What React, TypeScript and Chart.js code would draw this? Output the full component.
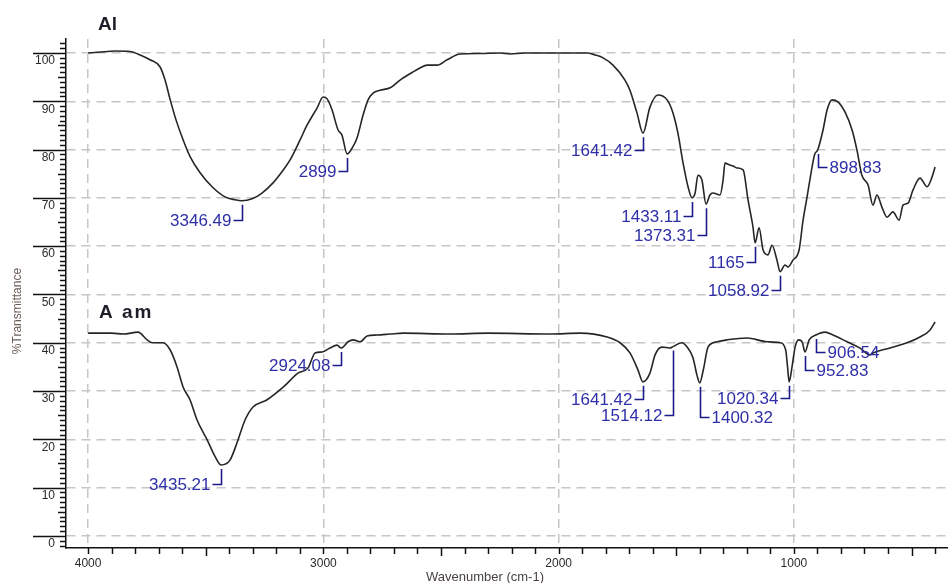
import React, { useEffect, useRef } from 'react';
import { Chart, registerables } from 'chart.js';

Chart.register(...registerables);

// Spectrum "Al": wavenumber (cm-1) and transmittance (%)
const alWavenumber = [
  4000, 3949, 3885, 3822, 3779, 3737, 3694, 3673, 3651, 3626,
  3596, 3566, 3524, 3473, 3418, 3375, 3346.49, 3303, 3261, 3214,
  3176, 3142, 3099, 3069, 3027, 3001, 2984, 2963, 2938, 2921,
  2899, 2878, 2857, 2831, 2810, 2789, 2759, 2716, 2674, 2632,
  2589, 2559, 2517, 2474, 2419, 2334, 2249, 2207, 2143, 2007,
  1879, 1845, 1811, 1769, 1718, 1697, 1667, 1641.42, 1612, 1578,
  1539, 1514, 1493, 1471, 1450, 1433.11, 1420, 1408, 1391, 1373.31,
  1357, 1344, 1314, 1301, 1293, 1272, 1259, 1242, 1216, 1195,
  1174, 1165, 1148, 1131, 1110, 1093, 1072, 1058.92, 1038, 1025,
  1004, 978, 961, 944, 927, 912, 898.83, 876, 859, 838,
  813, 783, 753, 732, 711, 685, 664, 647, 626, 604,
  579, 553, 536, 515, 494, 464, 434, 413, 400,
];
const alTransmittance = [
  100.0, 100.2, 100.4, 100.3, 99.6, 98.6, 97.1, 94.4, 90.3, 86.1,
  82.0, 78.5, 75.2, 72.3, 70.2, 69.6, 69.4, 69.8, 71.0, 73.1,
  75.4, 77.8, 82.0, 85.1, 88.6, 90.9, 90.5, 88.2, 84.1, 83.0,
  79.1, 80.3, 82.4, 87.2, 90.3, 91.7, 92.3, 92.8, 94.4, 95.7,
  96.9, 97.5, 97.5, 98.6, 99.8, 99.9, 100.0, 99.8, 100.0, 100.0,
  100.0, 99.6, 99.0, 97.5, 94.4, 92.3, 87.6, 83.4, 88.8, 91.3,
  90.3, 87.6, 83.4, 77.2, 72.3, 70.0, 71.0, 74.7, 73.7, 68.7,
  70.6, 71.0, 70.6, 73.7, 77.2, 76.8, 76.6, 76.2, 75.8, 69.6,
  64.0, 60.7, 63.8, 59.2, 58.2, 60.2, 57.1, 54.7, 56.1, 55.7,
  57.1, 59.2, 65.4, 70.2, 75.2, 79.0, 79.9, 84.1, 88.2, 90.3,
  89.9, 87.8, 84.1, 79.9, 74.7, 72.7, 68.5, 70.6, 68.1, 66.0,
  67.1, 65.4, 68.5, 68.9, 71.6, 74.1, 72.3, 74.3, 76.4,
];

// Spectrum "A am": wavenumber (cm-1) and transmittance (%)
const aamWavenumber = [
  4000, 3900, 3850, 3788, 3749, 3728, 3681, 3651, 3622, 3596,
  3567, 3537, 3494, 3460, 3435.21, 3397, 3367, 3333, 3299, 3239,
  3171, 3108, 3065, 3035, 3005, 2972, 2942, 2924.08, 2895, 2874,
  2844, 2814, 2772, 2717, 2661, 2462, 2300, 2037, 1909, 1794,
  1739, 1697, 1663, 1641.42, 1612, 1590, 1561, 1527, 1514.12, 1476,
  1454, 1429, 1412, 1400.32, 1385, 1365, 1327, 1284, 1199, 1114,
  1059, 1035, 1027, 1020.34, 1008, 995, 980, 965, 952.83, 935,
  906.54, 868, 834, 774, 719, 677, 664, 592, 519, 464,
  422, 400,
];
const aamTransmittance = [
  42.0, 42.0, 41.8, 42.2, 40.6, 40.0, 40.0, 38.5, 35.0, 30.8,
  28.2, 24.0, 19.9, 16.4, 14.7, 15.7, 19.3, 24.0, 26.7, 28.2,
  30.8, 33.7, 34.8, 37.9, 38.1, 38.9, 39.5, 38.9, 40.2, 40.6,
  40.2, 41.4, 41.6, 41.8, 42.0, 41.8, 42.0, 41.8, 42.0, 41.2,
  40.0, 37.9, 34.4, 31.9, 33.7, 37.5, 39.1, 38.9, 39.2, 40.0,
  39.1, 36.9, 33.3, 31.7, 34.4, 39.1, 40.2, 40.6, 41.0, 40.2,
  40.0, 38.5, 35.0, 31.9, 35.0, 39.1, 40.6, 40.2, 38.1, 40.6,
  41.6, 42.2, 41.6, 40.2, 38.9, 37.5, 37.9, 38.9, 40.0, 41.2,
  42.6, 44.3,
];

// Labelled band positions (cm-1)
const alPeaks = [3346.49, 2899, 1641.42, 1433.11, 1373.31, 1165, 1058.92, 898.83];
const aamPeaks = [3435.21, 2924.08, 1641.42, 1514.12, 1400.32, 1020.34, 952.83, 906.54];

// Leader drop (px) and label side for each band label
const alLeaders: [number, 'left' | 'right'][] = [
  [15, 'left'], [13, 'left'], [13, 'left'], [14, 'left'],
  [27, 'left'], [15, 'left'], [14, 'left'], [13, 'right'],
];
const aamLeaders: [number, 'left' | 'right'][] = [
  [15, 'left'], [13, 'left'], [13, 'left'], [64, 'left'],
  [30, 'right'], [12, 'left'], [14, 'right'], [13, 'right'],
];

const spectrumNames = ['Al', 'A am'];
const xTickLabels = [4000, 3000, 2000, 1000];
const yTickLabels = [0, 10, 20, 30, 40, 50, 60, 70, 80, 90, 100];

const SANS = '"Liberation Sans", Arial, Helvetica, sans-serif';
const LINE = '#262626';
const LEADER = '#1b1b8a';
const LABEL_BLUE = '#2f2fa8';
const GRID = '#c6c6c6';

const toPoints = (w: number[], t: number[]) => w.map((x, i) => ({ x, y: t[i] }));

const buildCallouts = (w: number[], t: number[], peaks: number[], leaders: [number, 'left' | 'right'][]) =>
  peaks.map((p, i) => ({ wn: p, t: t[w.indexOf(p)], drop: leaders[i][0], side: leaders[i][1] }));

const callouts = [
  ...buildCallouts(alWavenumber, alTransmittance, alPeaks, alLeaders),
  ...buildCallouts(aamWavenumber, aamTransmittance, aamPeaks, aamLeaders),
];

const line = (ctx: CanvasRenderingContext2D, x1: number, y1: number, x2: number, y2: number) => {
  ctx.beginPath();
  ctx.moveTo(x1, y1);
  ctx.lineTo(x2, y2);
  ctx.stroke();
};

const irOverlay = {
  id: 'irOverlay',
  afterDatasetsDraw(chart: any) {
    const { ctx } = chart;
    const xs = chart.scales.x;
    const ys = chart.scales.y;
    ctx.save();
    ctx.font = `17px ${SANS}`;
    ctx.textBaseline = 'middle';
    ctx.lineWidth = 1.6;
    ctx.strokeStyle = LEADER;
    ctx.fillStyle = LABEL_BLUE;
    callouts.forEach(({ wn, t, drop, side }) => {
      const px = Math.round(xs.getPixelForValue(wn)) + 0.5;
      const py = ys.getPixelForValue(t);
      const y0 = py + 4;
      const y1 = Math.round(y0 + drop) + 0.5;
      const hx = side === 'left' ? px - 9 : px + 9;
      ctx.beginPath();
      ctx.moveTo(px, y0);
      ctx.lineTo(px, y1);
      ctx.lineTo(hx, y1);
      ctx.stroke();
      ctx.textAlign = side === 'left' ? 'right' : 'left';
      ctx.fillText(String(wn), side === 'left' ? hx - 2 : hx + 2, y1 + 1);
    });
    ctx.restore();
  },
  afterDraw(chart: any) {
    const { ctx, chartArea } = chart;
    const xs = chart.scales.x;
    const ys = chart.scales.y;
    const { left, bottom, top } = chartArea;
    ctx.save();
    // tick marks
    ctx.strokeStyle = '#111';
    ctx.lineWidth = 1.5;
    for (let v = Math.ceil(ys.min); v <= Math.floor(ys.max); v++) {
      const py = Math.round(ys.getPixelForValue(v)) + 0.5;
      const len = v % 10 === 0 ? 33 : v % 5 === 0 ? 8 : 6;
      line(ctx, left - len, py, left, py);
    }
    for (let w = 4000; w >= xs.min; w -= 100) {
      const px = Math.round(xs.getPixelForValue(w)) + 0.5;
      const len = w % 500 === 0 && w % 1000 !== 0 ? 8 : 6;
      line(ctx, px, bottom, px, bottom + len);
    }
    // spectrum names
    ctx.fillStyle = '#1e1e2a';
    ctx.font = `bold 19px ${SANS}`;
    ctx.textAlign = 'left';
    ctx.textBaseline = 'alphabetic';
    ctx.fillText(spectrumNames[0], left + 32, top - 9);
    (ctx as any).letterSpacing = '2px';
    ctx.fillText(spectrumNames[1], left + 33, 318);
    (ctx as any).letterSpacing = '0px';
    // axis titles
    ctx.fillStyle = '#4a4242';
    ctx.font = `13px ${SANS}`;
    ctx.textAlign = 'center';
    ctx.textBaseline = 'middle';
    ctx.fillText('Wavenumber (cm-1)', 485, 577);
    ctx.translate(18, 311);
    ctx.rotate(-Math.PI / 2);
    ctx.fillStyle = '#6a5c56';
    ctx.font = `12px ${SANS}`;
    ctx.fillText('%Transmittance', 0, 0);
    ctx.restore();
  },
};

export default function App() {
  const canvasRef = useRef<HTMLCanvasElement>(null);

  useEffect(() => {
    const canvas = canvasRef.current;
    if (!canvas) return;
    const chart = new Chart(canvas, {
      type: 'line',
      data: {
        datasets: [
          {
            label: spectrumNames[0],
            data: toPoints(alWavenumber, alTransmittance),
            borderColor: LINE,
            borderWidth: 1.6,
            pointRadius: 0,
            cubicInterpolationMode: 'monotone',
            fill: false,
          },
          {
            label: spectrumNames[1],
            data: toPoints(aamWavenumber, aamTransmittance),
            borderColor: LINE,
            borderWidth: 1.6,
            pointRadius: 0,
            cubicInterpolationMode: 'monotone',
            fill: false,
          },
        ],
      },
      options: {
        responsive: false,
        devicePixelRatio: 1,
        animation: false,
        events: [],
        layout: { padding: { top: 39, left: 0, right: 0, bottom: 0 } },
        plugins: {
          legend: { display: false },
          tooltip: { enabled: false },
          title: { display: false },
        },
        scales: {
          x: {
            type: 'linear',
            reverse: true,
            min: 345,
            max: 4094,
            afterBuildTicks: (scale: any) => {
              scale.ticks = xTickLabels.map((value) => ({ value }));
            },
            afterFit: (scale: any) => {
              scale.height = 35;
            },
            ticks: {
              padding: 8,
              maxRotation: 0,
              autoSkip: false,
              color: '#2a2a2a',
              font: { family: SANS, size: 12 },
              callback: (v: any) => String(v),
            },
            grid: { color: GRID, lineWidth: 1.5, drawTicks: false },
            border: { display: true, color: '#111', width: 1.5, dash: [9, 6] },
          },
          y: {
            type: 'linear',
            min: -2.5,
            max: 102.9,
            afterBuildTicks: (scale: any) => {
              scale.ticks = yTickLabels.map((value) => ({ value }));
            },
            afterFit: (scale: any) => {
              scale.width = 66;
            },
            ticks: {
              padding: 11,
              labelOffset: 8,
              autoSkip: false,
              color: '#2a2a2a',
              font: { family: SANS, size: 12 },
              callback: (v: any) => String(v),
            },
            grid: { color: GRID, lineWidth: 1.5, drawTicks: false },
            border: { display: true, color: '#111', width: 1.5, dash: [9, 6] },
          },
        },
      },
      plugins: [irOverlay],
    } as any);
    return () => chart.destroy();
  }, []);

  return (
    <div style={{ position: 'absolute', left: 0, top: 0, width: 948, height: 583, background: '#fff' }}>
      <canvas ref={canvasRef} width={948} height={583} style={{ display: 'block', width: 948, height: 583 }} />
    </div>
  );
}
